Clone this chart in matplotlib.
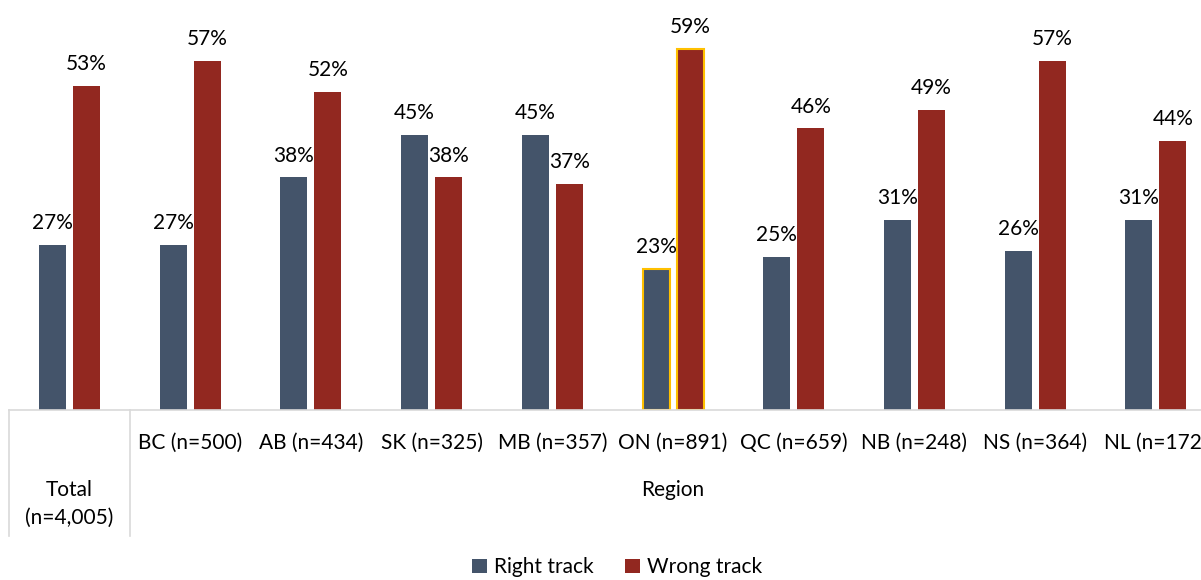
import matplotlib.pyplot as plt
import numpy as np

plt.rcParams['font.family'] = ['Lato', 'DejaVu Sans']

regions = ["BC (n=500)", "AB (n=434)", "SK (n=325)", "MB (n=357)", "ON (n=891)",
           "QC (n=659)", "NB (n=248)", "NS (n=364)", "NL (n=172)"]
right_track = [27, 27, 38, 45, 45, 23, 25, 31, 26, 31]
wrong_track = [53, 57, 52, 38, 37, 59, 46, 49, 57, 44]
highlight = 5  # ON

blue = "#44546A"
red = "#922820"
grid_grey = "#D9D9D9"
fs = 15

fig = plt.figure(figsize=(12.01, 5.8), dpi=100)
W, H = 1201, 580
# 10 groups of ~120.7 px, baseline at y=410 px, axes runs past the right edge
ax = fig.add_axes([9.2 / W, (H - 410) / H, 1207 / W, 410 / H])

x = np.arange(len(right_track))
w = 0.224
off = 0.141
ec = ["#FFC000" if i == highlight else "none" for i in x]
lw = [1.5 if i == highlight else 0 for i in x]
ax.bar(x - off, right_track, w, color=blue, edgecolor=ec, linewidth=lw, label="Right track")
ax.bar(x + off, wrong_track, w, color=red, edgecolor=ec, linewidth=lw, label="Wrong track")

for i in x:
    ax.annotate(f"{right_track[i]}%", (i - off, right_track[i]), xytext=(0, 8.5),
                textcoords="offset points", ha="center", va="bottom", fontsize=fs)
    ax.annotate(f"{wrong_track[i]}%", (i + off, wrong_track[i]), xytext=(0, 8.5),
                textcoords="offset points", ha="center", va="bottom", fontsize=fs)

ax.set_xlim(-0.5, len(x) - 0.5)
ax.set_ylim(0, 410 / 6.12)
ax.set_xticks([])
ax.set_yticks([])
for s in ["top", "right", "left"]:
    ax.spines[s].set_visible(False)
ax.spines["bottom"].set_color(grid_grey)
ax.spines["bottom"].set_linewidth(1.2)

# category labels laid out like a table under the axis
for i, lab in enumerate(regions):
    ax.text(i + 1, -5.4, lab, ha="center", va="center", fontsize=fs, clip_on=False)
ax.text(0, -13.1, "Total", ha="center", va="center", fontsize=fs, clip_on=False)
ax.text(0, -17.7, "(n=4,005)", ha="center", va="center", fontsize=fs, clip_on=False)
ax.text(5, -13.1, "Region", ha="center", va="center", fontsize=fs, clip_on=False)
for xv in [-0.5, 0.5]:
    ax.plot([xv, xv], [0, -20.6], color=grid_grey, lw=1.2, clip_on=False)

fig.legend(loc="lower center", bbox_to_anchor=(0.514, -0.028), ncol=2, frameon=False,
           fontsize=fs, handlelength=0.7, handleheight=0.7, handletextpad=0.35,
           columnspacing=1.5)

fig.savefig("out.png", dpi=100)
